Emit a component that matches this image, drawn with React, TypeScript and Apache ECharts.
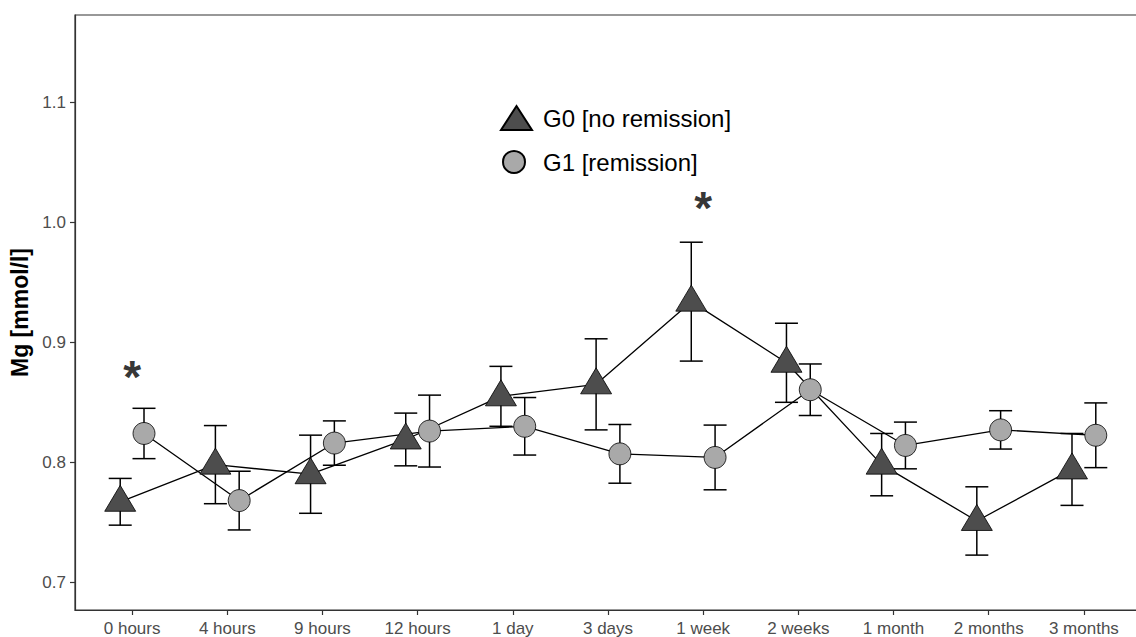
import React, { useEffect, useRef } from "react";
import * as echarts from "echarts";

const categories = ["0 hours", "4 hours", "9 hours", "12 hours", "1 day", "3 days", "1 week", "2 weeks", "1 month", "2 months", "3 months"];
const g0Name = "G0 [no remission]";
const g1Name = "G1 [remission]";
const g0Mean = [0.767, 0.798, 0.790, 0.819, 0.855, 0.865, 0.934, 0.883, 0.798, 0.751, 0.794];
const g0Err = [0.0195, 0.0326, 0.0326, 0.022, 0.025, 0.038, 0.0496, 0.033, 0.026, 0.0285, 0.030];
const g1Mean = [0.824, 0.768, 0.816, 0.826, 0.830, 0.807, 0.804, 0.8605, 0.814, 0.827, 0.8225];
const g1Err = [0.021, 0.0245, 0.0185, 0.030, 0.024, 0.0245, 0.027, 0.0215, 0.0195, 0.016, 0.027];
const sigIndex = [0, 6];
const sigValue = [0.878, 1.0185];
const yTicks = [0.7, 0.8, 0.9, 1.0, 1.1];
const yMin = 0.6767;
const yMax = 1.1732;
const dodge = 0.125;

const FONT = "'Liberation Sans', Arial, Helvetica, sans-serif";

export default function App() {
  const ref = useRef<HTMLDivElement>(null);
  useEffect(() => {
    if (!ref.current) return;
    const chart = echarts.init(ref.current, null, { renderer: "svg" });
    const xIdx = categories.map((_, i) => i);
    const g0Pts = g0Mean.map((m, i) => [i - dodge, m]);
    const g1Pts = g1Mean.map((m, i) => [i + dodge, m]);
    const g0Bars = g0Mean.map((m, i) => [i - dodge, m - g0Err[i], m + g0Err[i]]);
    const g1Bars = g1Mean.map((m, i) => [i + dodge, m - g1Err[i], m + g1Err[i]]);
    const errRender = (params: any, api: any) => {
      const x = api.value(0);
      const lo = api.coord([x, api.value(1)]);
      const hi = api.coord([x, api.value(2)]);
      const hw = 11.5;
      const style = { stroke: "#000", lineWidth: 1.5, fill: "none" };
      return {
        type: "group",
        children: [
          { type: "line", shape: { x1: lo[0], y1: lo[1], x2: hi[0], y2: hi[1] }, style },
          { type: "line", shape: { x1: hi[0] - hw, y1: hi[1], x2: hi[0] + hw, y2: hi[1] }, style },
          { type: "line", shape: { x1: lo[0] - hw, y1: lo[1], x2: lo[0] + hw, y2: lo[1] }, style },
        ],
      };
    };
    chart.setOption({
      animation: false,
      backgroundColor: "#fff",
      textStyle: { fontFamily: FONT },
      grid: { left: 75, top: 15, width: 1066, height: 597, show: true, borderColor: "#333", borderWidth: 1.2, backgroundColor: "transparent" },
      legend: [
        {
          data: [{ name: g0Name, icon: "triangle" }],
          left: 495, top: 100, itemWidth: 31, itemHeight: 24,
          selectedMode: false,
          textStyle: { fontSize: 24, color: "#000", fontFamily: FONT, padding: [0, 0, 0, 6] },
        },
        {
          data: [{ name: g1Name, icon: "circle" }],
          left: 497, top: 145, itemWidth: 22, itemHeight: 22,
          selectedMode: false,
          textStyle: { fontSize: 24, color: "#000", fontFamily: FONT, padding: [0, 0, 0, 13] },
        },
      ],
      xAxis: {
        type: "value",
        min: -0.6,
        max: 10.6,
        splitLine: { show: false },
        axisLine: { show: true, onZero: false, lineStyle: { color: "#333", width: 1.2 } },
        axisTick: { show: true, length: 5, lineStyle: { color: "#333", width: 1.2 }, customValues: xIdx },
        axisLabel: {
          customValues: xIdx,
          formatter: (v: number) => categories[Math.round(v)],
          fontSize: 17, color: "#4d4d4d", margin: 10, fontFamily: FONT,
        },
      },
      yAxis: {
        type: "value",
        min: yMin,
        max: yMax,
        name: "Mg [mmol/l]",
        nameLocation: "middle",
        nameGap: 37,
        nameTextStyle: { fontSize: 23, fontWeight: "bold", color: "#000", fontFamily: FONT },
        splitLine: { show: false },
        axisLine: { show: true, onZero: false, lineStyle: { color: "#333", width: 1.2 } },
        axisTick: { show: true, length: 5, lineStyle: { color: "#333", width: 1.2 }, customValues: yTicks },
        axisLabel: {
          customValues: yTicks,
          formatter: (v: number) => v.toFixed(1),
          fontSize: 17, color: "#4d4d4d", margin: 9, fontFamily: FONT,
        },
      },
      series: [
        { type: "line", data: g0Pts, showSymbol: false, symbol: "none", lineStyle: { color: "#000", width: 1.3 }, z: 2, silent: true },
        { type: "line", data: g1Pts, showSymbol: false, symbol: "none", lineStyle: { color: "#000", width: 1.3 }, z: 2, silent: true },
        { type: "custom", data: g0Bars, renderItem: errRender, z: 3, silent: true },
        { type: "custom", data: g1Bars, renderItem: errRender, z: 3, silent: true },
        {
          name: g0Name, type: "scatter", data: g0Pts, symbol: "triangle", symbolSize: [31, 26], symbolOffset: [0, -3.5],
          itemStyle: { color: "#4d4d4d", borderColor: "#000", borderWidth: 0.8, opacity: 1 }, z: 4,
        },
        {
          name: g1Name, type: "scatter", data: g1Pts, symbol: "circle", symbolSize: 22,
          itemStyle: { color: "#a9a9a9", borderColor: "#000", borderWidth: 0.8, opacity: 1 }, z: 5,
        },
        {
          type: "scatter", data: sigIndex.map((x, i) => [x, sigValue[i]]), symbol: "circle", symbolSize: 1, z: 6, silent: true,
          itemStyle: { color: "rgba(0,0,0,0)" },
          label: { show: true, formatter: "*", position: "inside", fontSize: 46, fontWeight: "bold", color: "#000", textBorderWidth: 0, offset: [0, 8], fontFamily: FONT },
        },
      ],
    });
    return () => chart.dispose();
  }, []);
  return <div ref={ref} style={{ position: "fixed", left: 0, top: 0, width: 1142, height: 637 }} />;
}
